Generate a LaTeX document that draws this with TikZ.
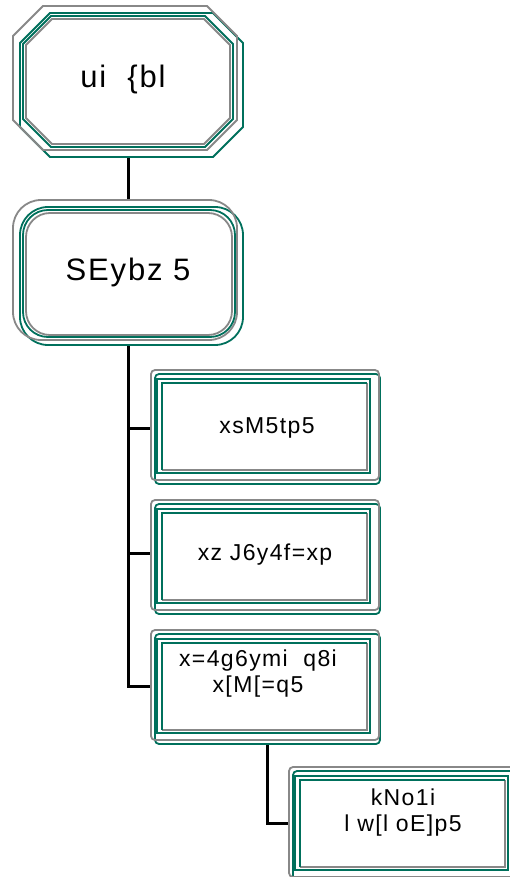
\documentclass[tikz,border=0pt]{standalone}
\usepackage{fontspec}
\setmainfont{Liberation Sans}
\newfontfamily\widefont[LetterSpace=6]{Liberation Sans}
\definecolor{tealc}{RGB}{0,112,92}
\definecolor{grayc}{RGB}{136,136,136}
\pgfdeclarelayer{bg}
\pgfdeclarelayer{fr}
\pgfsetlayers{bg,fr,main}
\tikzset{
 conn/.style={line width=3pt, draw=black},
 gline/.style={draw=grayc, line width=1.8pt},
 tline/.style={draw=tealc, line width=1.8pt},
 biglbl/.style={font=\widefont\fontsize{31}{34}\selectfont, align=center, inner sep=0pt},
 boxlbl/.style={font=\widefont\fontsize{23}{26}\selectfont, align=center, inner sep=0pt}
}
\newcommand\octpath[5]{(#1+#5,#2) -- (#3-#5,#2) -- (#3,#2+#5) -- (#3,#4-#5) -- (#3-#5,#4) -- (#1+#5,#4) -- (#1,#4-#5) -- (#1,#2+#5) -- cycle}
\newcommand\drawbox[2]{%
 \fill[white] (#1,#2) rectangle (#1+229,#2+114);
 \draw[tline, rounded corners=4pt] (#1+4,#2+4) rectangle (#1+229,#2+114);
 \draw[gline, rounded corners=4pt] (#1,#2) rectangle (#1+228,#2+110);
 \draw[tline] (#1+6,#2+9) rectangle (#1+219,#2+103);
 \draw[gline] (#1+11,#2+100) -- (#1+216,#2+100) -- (#1+216,#2+13);
 \draw[tline] (#1+11,#2+100) -- (#1+11,#2+13) -- (#1+216,#2+13);
}
\begin{document}
\begin{tikzpicture}[x=1pt,y=-1pt]
\useasboundingbox (0,0) rectangle (509,877);
\clip (0,0) rectangle (509,877);
% text nodes
\node[biglbl] (n1) at (123,79) {ui \ \{bl};
\node[biglbl] (n2) at (128,272) {SEybz 5};
\node[boxlbl] (b3) at (267,428) {xsM5tp5};
\node[boxlbl] (b4) at (265,555) {xz J6y4f=xp};
\node[boxlbl] (b5) at (258,674) {x=4g6ymi \ q8i\\x[M[=q5};
\node[boxlbl] (b6) at (403,813) {kNo1i\\l w[l oE]p5};
\coordinate (c3) at (151,428);
\coordinate (c4) at (151,553);
\coordinate (c5) at (151,686);
\coordinate (c5b) at (267,740);
\coordinate (c6) at (289,823);
% connectors
\begin{pgfonlayer}{bg}
\draw[conn] (n1.center -| n2.center) -- (n2.center);
\draw[conn] (n2.center) |- (c3);
\draw[conn] (n2.center) |- (c4);
\draw[conn] (n2.center) |- (c5);
\draw[conn] (c5b) |- (c6);
\end{pgfonlayer}
% frames
\begin{pgfonlayer}{fr}
\fill[white] \octpath{13}{6}{243}{157}{30};
\draw[tline] \octpath{20}{13}{243}{157}{30};
\draw[gline] \octpath{13}{6}{237}{150}{30};
\draw[gline] \octpath{26}{19}{230}{144}{26};
\draw[tline] \octpath{23}{16}{233}{147}{28};
\fill[white, rounded corners=28pt] (13,200) rectangle (243,345);
\draw[tline, rounded corners=28pt] (20,207) rectangle (243,345);
\draw[gline, rounded corners=28pt] (13,200) rectangle (237,340);
\draw[gline, rounded corners=24pt] (26,213) rectangle (232,335);
\draw[tline, rounded corners=25pt] (23,210) rectangle (235,337);
\drawbox{151}{370}
\drawbox{151}{500}
\drawbox{151}{630}
\drawbox{289}{767}
\end{pgfonlayer}
\end{tikzpicture}
\end{document}
